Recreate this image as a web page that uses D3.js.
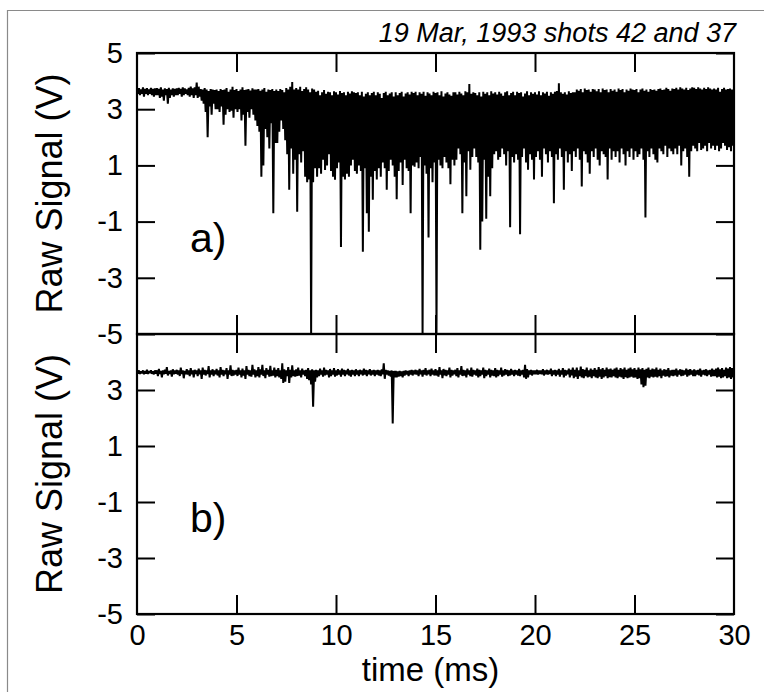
<!DOCTYPE html>
<html>
<head>
<meta charset="utf-8">
<script src="https://cdn.jsdelivr.net/npm/d3@7"></script>
<style>
  body { margin: 0; background: #fff; }
  svg { display: block; }
  text { font-family: "Liberation Sans", Arial, Helvetica, sans-serif; fill: #000; }
</style>
</head>
<body>
<div id="chart"></div>
<script>
// sampling of the traces (ms), one min/max pair per bin
let tStep = 0.1;

let xTicks = [0, 5, 10, 15, 20, 25, 30];
let yTicksA = [-5, -3, -1, 1, 3, 5];
let yTicksB = [-5, -3, -1, 1, 3];

let titleText = "19 Mar, 1993 shots 42 and 37";
let panelLabels = ["a)", "b)"];

// shot 42 : bin maxima / minima (V)
let aHigh = [
  3.72,3.75,3.7,3.78,3.72,3.75,3.7,3.76,3.72,3.74,
  3.75,3.72,3.78,3.7,3.74,3.72,3.76,3.7,3.74,3.72,
  3.74,3.76,3.72,3.78,3.74,3.7,3.76,3.8,3.74,3.78,
  3.95,3.8,3.72,3.7,3.75,3.7,3.65,3.72,3.7,3.68,
  3.7,3.65,3.72,3.68,3.7,3.75,3.62,3.7,3.8,3.68,
  3.72,3.65,3.7,3.78,3.68,3.7,3.72,3.66,3.74,3.7,
  3.7,3.72,3.66,3.7,3.75,3.62,3.7,3.68,3.72,3.65,
  3.7,3.65,3.72,3.68,3.6,3.75,3.7,3.8,3.97,3.7,
  3.75,3.7,3.8,3.65,3.72,3.78,3.7,3.6,3.74,3.7,
  3.62,3.66,3.5,3.6,3.68,3.55,3.62,3.6,3.5,3.64,
  3.6,3.52,3.65,3.58,3.6,3.5,3.62,3.56,3.64,3.6,
  3.58,3.6,3.5,3.62,3.45,3.55,3.6,3.5,3.58,3.62,
  3.5,3.6,3.55,3.4,3.58,3.62,3.5,3.56,3.6,3.45,
  3.6,3.5,3.58,3.62,3.45,3.56,3.6,3.52,3.62,3.58,
  3.62,3.5,3.6,3.55,3.62,3.48,3.6,3.56,3.5,3.62,
  3.58,3.6,3.5,3.64,3.45,3.56,3.6,3.52,3.48,3.6,
  3.6,3.52,3.62,3.56,3.5,3.64,3.6,3.9,3.55,3.6,
  3.58,3.5,3.6,3.45,3.62,3.55,3.6,3.5,3.64,3.56,
  3.6,3.52,3.62,3.56,3.48,3.6,3.64,3.5,3.58,3.62,
  3.5,3.62,3.58,3.6,3.45,3.56,3.64,3.5,3.6,3.55,
  3.6,3.52,3.64,3.5,3.6,3.56,3.62,3.48,3.6,3.55,
  3.62,3.65,3.92,3.6,3.55,3.6,3.52,3.64,3.58,3.6,
  3.6,3.7,3.66,3.72,3.6,3.74,3.68,3.7,3.62,3.72,
  3.7,3.64,3.72,3.6,3.74,3.68,3.7,3.6,3.72,3.66,
  3.7,3.62,3.74,3.68,3.72,3.6,3.7,3.66,3.74,3.7,
  3.68,3.72,3.6,3.7,3.74,3.66,3.7,3.62,3.72,3.68,
  3.7,3.66,3.72,3.74,3.68,3.7,3.76,3.72,3.66,3.74,
  3.72,3.76,3.7,3.78,3.74,3.7,3.76,3.68,3.74,3.78,
  3.76,3.72,3.78,3.74,3.7,3.76,3.72,3.78,3.74,3.7,
  3.74,3.7,3.76,3.62,3.72,3.76,3.7,3.72,3.74,3.7
];
let aLow = [
  3.55,3.5,3.55,3.45,3.55,3.5,3.55,3.5,3.45,3.5,
  3.5,3.4,3.45,3.3,3.5,3.2,3.4,3.5,3.45,3.5,
  3.5,3.55,3.45,3.5,3.55,3.5,3.45,3.5,3.4,3.5,
  3.4,3.45,3.3,3.2,2.9,2.0,3.1,2.8,3.2,3.0,
  3.0,2.9,3.1,2.45,2.8,3.0,2.9,2.95,2.7,3.0,
  2.9,3.0,2.6,2.8,1.7,2.9,2.7,3.0,2.8,2.6,
  2.4,2.2,0.6,1.0,2.3,2.0,1.6,2.5,-0.7,1.8,
  1.8,2.2,2.6,2.3,1.9,1.4,0.13,1.6,0.7,1.2,
  -0.65,1.4,1.1,1.5,0.6,0.4,0.5,-5,0.4,0.9,
  0.6,0.9,0.7,1.2,0.84,1.0,1.4,0.8,0.6,0.49,
  0.9,1.1,-1.9,0.6,0.5,0.7,0.6,1.0,1.2,0.8,
  0.7,1.0,0.8,-2.07,0.9,-0.7,-1.36,0.6,-0.22,0.8,
  0.5,0.9,0.6,1.1,0.9,0.13,0.8,1.2,1.0,0.6,
  -0.2,0.8,1.1,0.3,1.2,0.9,0.8,-0.7,1.0,0.95,
  1.1,0.9,1.3,-5,1.0,0.7,-1.57,0.9,0.4,1.1,
  -5,1.2,1.0,0.9,1.3,1.1,0.9,0.33,1.2,1.0,
  1.2,1.6,1.4,-0.7,1.1,-0.1,1.5,0.85,1.3,1.6,
  1.3,1.1,-2.0,-1.0,1.2,-0.9,0.6,-0.1,0.9,1.4,
  1.5,1.2,1.3,1.6,1.4,1.0,1.5,-1.2,1.3,1.1,
  1.4,1.2,-1.45,1.3,1.6,1.1,0.85,1.4,1.2,0.5,
  1.3,1.5,1.2,0.6,1.6,1.4,1.1,1.5,1.3,-0.35,
  1.4,1.2,1.6,1.3,0.13,1.5,1.1,1.4,0.8,1.5,
  1.3,1.6,1.2,0.25,1.5,1.4,1.1,0.7,1.5,1.3,
  1.6,1.2,1.0,1.5,1.4,1.3,0.5,1.6,1.2,1.5,
  1.3,1.5,1.1,1.6,1.4,1.0,1.5,1.3,1.6,1.2,
  1.5,1.3,1.4,1.6,1.2,-0.85,1.5,1.3,1.6,1.4,
  1.2,1.1,1.6,1.5,1.4,1.7,1.3,1.6,1.5,1.4,
  1.6,1.4,1.7,1.0,1.5,1.6,1.3,0.6,1.5,1.7,
  1.6,1.5,1.8,1.55,1.6,1.7,1.5,1.8,1.6,1.7,
  1.55,1.7,1.5,1.6,1.8,1.7,1.55,1.65,1.5,1.7
];

// shot 37 : bin maxima / minima (V)
let bHigh = [
  3.68,3.7,3.67,3.7,3.68,3.72,3.68,3.7,3.67,3.7,
  3.7,3.75,3.68,3.7,3.72,3.82,3.68,3.7,3.74,3.7,
  3.72,3.7,3.8,3.7,3.68,3.74,3.7,3.78,3.7,3.72,
  3.7,3.76,3.7,3.8,3.72,3.7,3.85,3.7,3.74,3.7,
  3.75,3.7,3.82,3.72,3.7,3.78,3.7,3.88,3.72,3.7,
  3.72,3.8,3.7,3.76,3.7,3.85,3.72,3.7,3.9,3.74,
  3.7,3.82,3.74,3.9,3.7,3.78,3.72,3.86,3.7,3.8,
  3.72,3.78,3.7,3.95,3.74,3.7,3.82,3.72,3.88,3.7,
  3.74,3.8,3.7,3.76,3.7,3.72,3.78,3.7,3.74,3.7,
  3.72,3.7,3.76,3.7,3.8,3.72,3.7,3.75,3.7,3.78,
  3.7,3.74,3.7,3.76,3.72,3.7,3.75,3.7,3.72,3.7,
  3.74,3.7,3.72,3.7,3.76,3.72,3.7,3.74,3.7,3.72,
  3.7,3.72,3.7,3.74,3.95,3.72,3.7,3.68,3.7,3.68,
  3.68,3.66,3.68,3.66,3.68,3.7,3.68,3.7,3.72,3.7,
  3.72,3.7,3.75,3.7,3.72,3.78,3.7,3.72,3.76,3.7,
  3.74,3.7,3.82,3.7,3.75,3.72,3.7,3.8,3.72,3.7,
  3.72,3.78,3.7,3.85,3.72,3.7,3.76,3.7,3.8,3.72,
  3.7,3.76,3.72,3.7,3.8,3.72,3.7,3.76,3.72,3.7,
  3.78,3.72,3.7,3.8,3.7,3.74,3.72,3.7,3.75,3.7,
  3.72,3.7,3.75,3.7,3.72,3.9,3.75,3.7,3.72,3.7,
  3.7,3.72,3.7,3.7,3.74,3.7,3.72,3.7,3.76,3.7,
  3.72,3.7,3.75,3.7,3.78,3.72,3.7,3.76,3.72,3.8,
  3.72,3.8,3.7,3.84,3.75,3.72,3.8,3.7,3.76,3.72,
  3.78,3.72,3.82,3.74,3.78,3.72,3.8,3.74,3.76,3.72,
  3.76,3.8,3.72,3.78,3.74,3.8,3.72,3.76,3.8,3.74,
  3.78,3.72,3.8,3.74,3.78,3.72,3.76,3.8,3.72,3.76,
  3.74,3.8,3.72,3.76,3.7,3.74,3.72,3.78,3.7,3.72,
  3.72,3.76,3.7,3.74,3.72,3.7,3.76,3.72,3.74,3.7,
  3.74,3.7,3.72,3.76,3.7,3.72,3.74,3.7,3.72,3.76,
  3.72,3.76,3.8,3.74,3.78,3.72,3.8,3.76,3.82,3.78
];
let bLow = [
  3.58,3.57,3.6,3.56,3.58,3.57,3.6,3.58,3.56,3.58,
  3.5,3.57,3.45,3.56,3.58,3.52,3.57,3.48,3.56,3.58,
  3.55,3.5,3.57,3.42,3.56,3.55,3.5,3.56,3.45,3.57,
  3.5,3.56,3.4,3.55,3.52,3.57,3.45,3.55,3.5,3.56,
  3.52,3.45,3.55,3.5,3.56,3.4,3.55,3.5,3.52,3.55,
  3.5,3.55,3.45,3.52,3.4,3.55,3.5,3.48,3.55,3.45,
  3.5,3.45,3.55,3.5,3.42,3.55,3.48,3.5,3.52,3.45,
  3.5,3.45,3.4,3.25,3.3,3.5,3.25,3.45,3.5,3.48,
  3.5,3.52,3.45,3.55,3.5,3.4,3.35,3.2,2.4,3.3,
  3.45,3.5,3.55,3.48,3.52,3.55,3.45,3.5,3.55,3.48,
  3.52,3.55,3.48,3.55,3.5,3.56,3.52,3.48,3.55,3.5,
  3.55,3.5,3.56,3.52,3.55,3.5,3.56,3.52,3.55,3.5,
  3.55,3.52,3.5,3.56,3.4,3.55,3.52,3.48,1.8,3.45,
  3.45,3.48,3.5,3.45,3.52,3.55,3.5,3.55,3.52,3.56,
  3.55,3.5,3.56,3.48,3.55,3.52,3.56,3.5,3.55,3.52,
  3.52,3.48,3.55,3.42,3.52,3.5,3.55,3.45,3.52,3.56,
  3.5,3.45,3.55,3.5,3.52,3.45,3.55,3.5,3.48,3.55,
  3.52,3.45,3.5,3.55,3.42,3.5,3.55,3.45,3.52,3.5,
  3.45,3.5,3.55,3.48,3.52,3.55,3.5,3.52,3.55,3.5,
  3.55,3.52,3.5,3.55,3.45,3.4,3.45,3.55,3.52,3.56,
  3.56,3.55,3.57,3.56,3.52,3.56,3.55,3.57,3.5,3.55,
  3.5,3.55,3.48,3.55,3.45,3.52,3.56,3.45,3.52,3.42,
  3.48,3.4,3.5,3.45,3.42,3.5,3.45,3.48,3.42,3.5,
  3.45,3.42,3.48,3.4,3.45,3.5,3.42,3.46,3.45,3.5,
  3.45,3.42,3.48,3.45,3.4,3.46,3.42,3.45,3.48,3.44,
  3.45,3.4,3.42,3.2,3.1,3.15,3.45,3.42,3.48,3.45,
  3.48,3.45,3.5,3.42,3.52,3.48,3.5,3.45,3.52,3.5,
  3.52,3.48,3.55,3.5,3.52,3.55,3.48,3.52,3.55,3.5,
  3.5,3.55,3.52,3.48,3.55,3.52,3.5,3.55,3.48,3.5,
  3.5,3.45,3.48,3.42,3.45,3.5,3.42,3.45,3.4,3.45
];

let width = 770, height = 692;
let plotLeft = 137, plotRight = 734;
let panels = [
  {hi: aHigh, lo: aLow, top: 53, bottom: 334, ticks: yTicksA, label: panelLabels[0], labelY: 252},
  {hi: bHigh, lo: bLow, top: 334, bottom: 614, ticks: yTicksB, label: panelLabels[1], labelY: 532}
];

let svg = d3.select("#chart").append("svg")
    .attr("width", width)
    .attr("height", height);

// scan border (left + top only)
svg.append("path")
    .attr("d", "M7.5,692 L7.5,10.5 L764,10.5")
    .attr("fill", "none")
    .attr("stroke", "#8a8a8a")
    .attr("stroke-width", 1.2);

let xScale = d3.scaleLinear()
    .domain([0, 30])
    .range([plotLeft, plotRight]);

let fmt = d => String(d);  // plain hyphen minus like the original

// min/max pairs -> zigzag trace
function trace(hi, lo) {
  let pts = [];
  hi.forEach((h, i) => {
    pts.push([i * tStep, h]);
    pts.push([i * tStep + tStep / 2, lo[i]]);
  });
  return pts;
}

panels.forEach((p, k) => {
  let yScale = d3.scaleLinear()
      .domain([-5, 5])
      .range([p.bottom, p.top]);

  let clipId = "clip" + k;
  svg.append("clipPath").attr("id", clipId)
    .append("rect")
      .attr("x", plotLeft).attr("y", p.top)
      .attr("width", plotRight - plotLeft).attr("height", p.bottom - p.top);

  let line = d3.line()
      .x(d => xScale(d[0]))
      .y(d => yScale(d[1]));

  svg.append("path")
      .datum(trace(p.hi, p.lo))
      .attr("clip-path", `url(#${clipId})`)
      .attr("fill", "none")
      .attr("stroke", "#000")
      .attr("stroke-width", 2)
      .attr("stroke-linejoin", "bevel")
      .attr("d", line);

  // left axis with labels, ticks pointing in
  svg.append("g")
      .attr("transform", `translate(${plotLeft},0)`)
      .call(d3.axisLeft(yScale).tickValues(p.ticks).tickSizeInner(-18).tickSizeOuter(0).tickPadding(14).tickFormat(fmt))
      .call(g => g.select(".domain").remove())
      .call(g => g.selectAll("line").attr("stroke-width", 2))
      .call(g => g.selectAll("text").attr("font-size", 29).attr("font-family", null));

  // right axis, no labels
  svg.append("g")
      .attr("transform", `translate(${plotRight},0)`)
      .call(d3.axisRight(yScale).tickValues(p.ticks).tickSizeInner(-18).tickSizeOuter(0).tickFormat(""))
      .call(g => g.select(".domain").remove())
      .call(g => g.selectAll("line").attr("stroke-width", 2));

  // top and bottom ticks
  let inner = xTicks.slice(1, -1);
  svg.append("g")
      .attr("transform", `translate(0,${p.top})`)
      .call(d3.axisTop(xScale).tickValues(inner).tickSizeInner(-19).tickSizeOuter(0).tickFormat(""))
      .call(g => g.select(".domain").remove())
      .call(g => g.selectAll("line").attr("stroke-width", 2));

  let bottomAxis = svg.append("g")
      .attr("transform", `translate(0,${p.bottom})`);
  if (k === panels.length - 1) {
    bottomAxis.call(d3.axisBottom(xScale).tickValues(xTicks).tickSizeInner(-19).tickSizeOuter(0).tickPadding(10).tickFormat(fmt))
      .call(g => g.selectAll("text").attr("font-size", 29).attr("font-family", null));
    bottomAxis.selectAll(".tick").filter(d => d === 0 || d === 30).select("line").remove();
  } else {
    bottomAxis.call(d3.axisBottom(xScale).tickValues(inner).tickSizeInner(-19).tickSizeOuter(0).tickFormat(""));
  }
  bottomAxis.call(g => g.select(".domain").remove())
      .call(g => g.selectAll("line").attr("stroke-width", 2));

  // frame
  svg.append("rect")
      .attr("x", plotLeft).attr("y", p.top)
      .attr("width", plotRight - plotLeft).attr("height", p.bottom - p.top)
      .attr("fill", "none")
      .attr("stroke", "#000")
      .attr("stroke-width", 2.2);

  svg.append("text")
      .attr("x", 190)
      .attr("y", p.labelY)
      .attr("font-size", 41)
      .text(p.label);

  svg.append("text")
      .attr("transform", `translate(62,${(p.top + p.bottom) / 2}) rotate(-90)`)
      .attr("text-anchor", "middle")
      .attr("font-size", 36)
      .text("Raw Signal (V)");
});

svg.append("text")
    .attr("x", (plotLeft + plotRight) / 2 - 5)
    .attr("y", 681)
    .attr("text-anchor", "middle")
    .attr("font-size", 33)
    .text("time (ms)");

svg.append("text")
    .attr("x", 736)
    .attr("y", 42)
    .attr("text-anchor", "end")
    .attr("font-size", 27)
    .attr("font-style", "italic")
    .text(titleText);
</script>
</body>
</html>
